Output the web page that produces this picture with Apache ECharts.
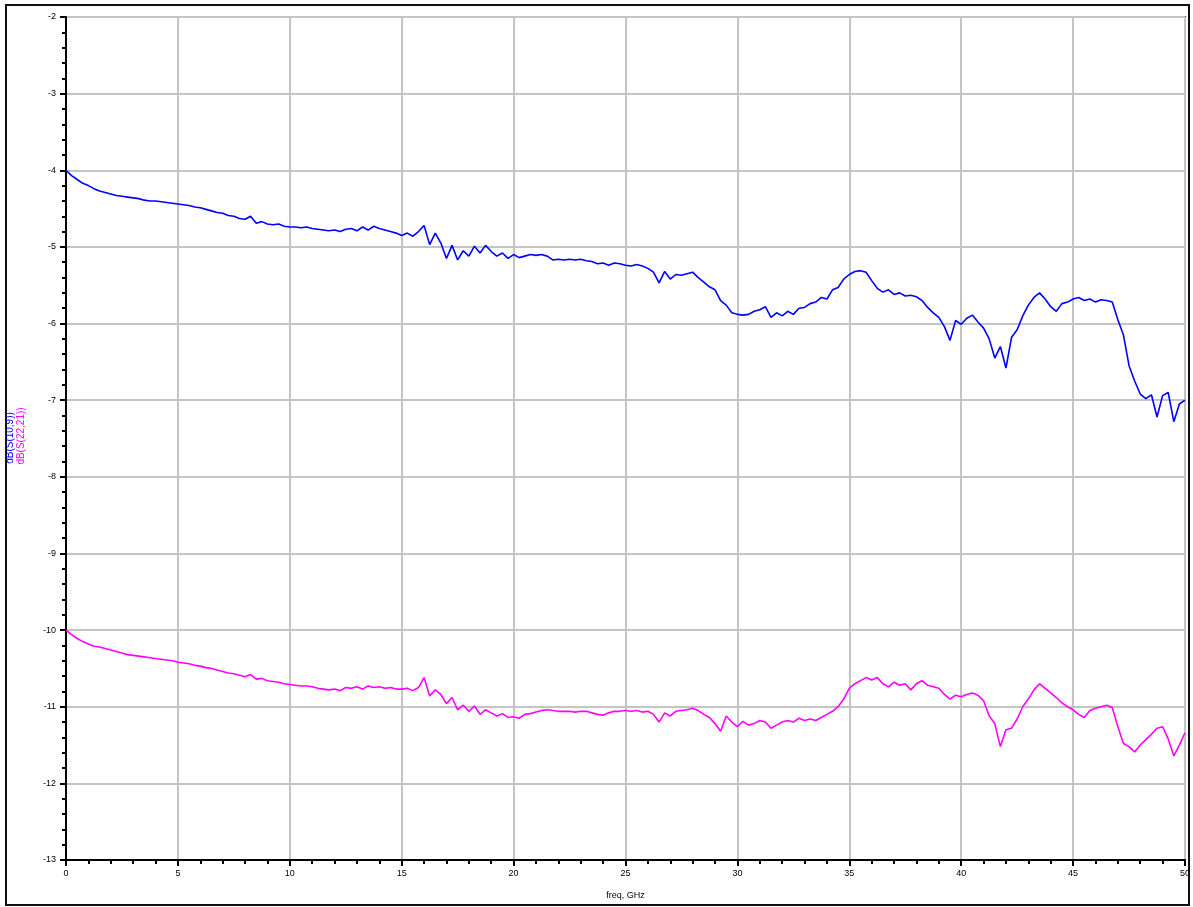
<!DOCTYPE html>
<html>
<head>
<meta charset="utf-8">
<script src="https://cdn.jsdelivr.net/npm/echarts@6/dist/echarts.min.js"></script>
<style>
  html, body { margin: 0; padding: 0; background: #fff; }
  #chart { width: 1193px; height: 907px; }
</style>
</head>
<body>
<div id="chart"></div>
<script>
// frequency grid of the traces, GHz
var freqStep = 0.25

// dB(S(10,9)), one row = 5 GHz
var s109 = [
  -4.00, -4.07, -4.12, -4.17, -4.20, -4.24, -4.27, -4.29, -4.31, -4.33, -4.34, -4.35, -4.36, -4.37, -4.39, -4.40, -4.40, -4.41, -4.42, -4.43,
  -4.44, -4.45, -4.46, -4.48, -4.49, -4.51, -4.53, -4.55, -4.56, -4.59, -4.60, -4.63, -4.64, -4.60, -4.69, -4.67, -4.70, -4.71, -4.70, -4.73,
  -4.74, -4.74, -4.75, -4.74, -4.76, -4.77, -4.78, -4.79, -4.78, -4.80, -4.77, -4.76, -4.79, -4.74, -4.78, -4.73, -4.76, -4.78, -4.80, -4.82,
  -4.85, -4.82, -4.86, -4.80, -4.72, -4.97, -4.82, -4.95, -5.15, -4.98, -5.17, -5.05, -5.12, -4.99, -5.08, -4.98, -5.06, -5.12, -5.08, -5.15,
  -5.10, -5.14, -5.12, -5.10, -5.11, -5.10, -5.12, -5.17, -5.16, -5.17, -5.16, -5.17, -5.16, -5.18, -5.19, -5.22, -5.21, -5.24, -5.21, -5.22,
  -5.24, -5.25, -5.23, -5.25, -5.28, -5.33, -5.47, -5.32, -5.42, -5.36, -5.37, -5.35, -5.33, -5.40, -5.46, -5.52, -5.56, -5.70, -5.76, -5.86,
  -5.88, -5.89, -5.88, -5.84, -5.82, -5.78, -5.92, -5.86, -5.90, -5.84, -5.88, -5.80, -5.79, -5.74, -5.72, -5.66, -5.68, -5.56, -5.53, -5.42,
  -5.36, -5.32, -5.31, -5.33, -5.44, -5.54, -5.59, -5.56, -5.62, -5.60, -5.64, -5.63, -5.65, -5.70, -5.79, -5.86, -5.92, -6.04, -6.22, -5.96,
  -6.01, -5.93, -5.89, -5.98, -6.06, -6.20, -6.45, -6.30, -6.58, -6.18, -6.08, -5.90, -5.76, -5.66, -5.60, -5.68, -5.78, -5.84, -5.74, -5.72,
  -5.68, -5.66, -5.70, -5.68, -5.72, -5.69, -5.70, -5.72, -5.95, -6.15, -6.55, -6.75, -6.92, -6.98, -6.93, -7.22, -6.94, -6.90, -7.28, -7.05,
  -7.00
]

// dB(S(22,21))
var s2221 = [
  -10.00, -10.06, -10.11, -10.15, -10.18, -10.21, -10.22, -10.24, -10.26, -10.28, -10.30, -10.32, -10.33, -10.34, -10.35, -10.36, -10.37, -10.38, -10.39, -10.40,
  -10.42, -10.43, -10.44, -10.46, -10.47, -10.49, -10.50, -10.52, -10.54, -10.56, -10.57, -10.59, -10.61, -10.58, -10.64, -10.63, -10.66, -10.67, -10.68, -10.70,
  -10.71, -10.72, -10.73, -10.73, -10.74, -10.76, -10.77, -10.78, -10.77, -10.79, -10.75, -10.76, -10.74, -10.77, -10.73, -10.75, -10.74, -10.76, -10.75, -10.77,
  -10.77, -10.76, -10.79, -10.75, -10.62, -10.86, -10.78, -10.84, -10.96, -10.88, -11.04, -10.98, -11.06, -10.99, -11.10, -11.04, -11.08, -11.12, -11.09, -11.14,
  -11.13, -11.15, -11.10, -11.09, -11.07, -11.05, -11.04, -11.05, -11.06, -11.06, -11.06, -11.07, -11.06, -11.06, -11.08, -11.10, -11.11, -11.08, -11.06, -11.06,
  -11.05, -11.06, -11.05, -11.07, -11.06, -11.10, -11.20, -11.08, -11.12, -11.06, -11.05, -11.04, -11.02, -11.05, -11.10, -11.14, -11.22, -11.32, -11.12, -11.20,
  -11.26, -11.19, -11.24, -11.22, -11.18, -11.20, -11.28, -11.24, -11.20, -11.18, -11.20, -11.15, -11.18, -11.16, -11.18, -11.14, -11.10, -11.06, -11.00, -10.90,
  -10.76, -10.70, -10.66, -10.62, -10.65, -10.62, -10.70, -10.74, -10.68, -10.72, -10.70, -10.78, -10.70, -10.66, -10.72, -10.74, -10.76, -10.84, -10.90, -10.85,
  -10.87, -10.84, -10.82, -10.85, -10.92, -11.12, -11.22, -11.52, -11.30, -11.28, -11.16, -11.00, -10.90, -10.78, -10.70, -10.76, -10.82, -10.88, -10.95, -11.00,
  -11.04, -11.10, -11.14, -11.05, -11.02, -11.00, -10.98, -11.01, -11.26, -11.48, -11.52, -11.59, -11.50, -11.43, -11.36, -11.28, -11.26, -11.42, -11.64, -11.50,
  -11.34
]

var xTicks = { min: 0, max: 50, step: 5 }
var yTicks = { min: -13, max: -2, step: 1 }

function toPairs (vals) {
  return vals.map(function (v, i) { return [i * freqStep, v] })
}

var myChart = echarts.init(document.getElementById('chart'))

var axisFont = { fontFamily: 'Liberation Sans', fontSize: 9, color: '#000' }

var option = {
  animation: false,
  backgroundColor: '#fff',
  grid: {
    left: 66,
    top: 17,
    right: 7,
    bottom: 47,
    show: true,
    borderColor: '#444',
    borderWidth: 2
  },
  xAxis: {
    type: 'value',
    min: xTicks.min,
    max: xTicks.max,
    interval: xTicks.step,
    name: 'freq, GHz',
    nameLocation: 'middle',
    nameGap: 31,
    nameTextStyle: axisFont,
    axisLine: { onZero: false, lineStyle: { color: '#000', width: 2 } },
    axisTick: { show: true, length: 6, lineStyle: { color: '#000', width: 2 } },
    minorTick: { show: true, splitNumber: 5, length: 4, lineStyle: { color: '#000', width: 2 } },
    axisLabel: Object.assign({ margin: 9 }, axisFont),
    splitLine: { show: true, lineStyle: { color: '#c4c4c4', width: 2 } }
  },
  yAxis: {
    type: 'value',
    min: yTicks.min,
    max: yTicks.max,
    interval: yTicks.step,
    axisLine: { onZero: false, lineStyle: { color: '#000', width: 2 } },
    axisTick: { show: true, length: 6, lineStyle: { color: '#000', width: 2 } },
    minorTick: { show: true, splitNumber: 5, length: 4, lineStyle: { color: '#000', width: 2 } },
    axisLabel: Object.assign({ margin: 10 }, axisFont),
    splitLine: { show: true, lineStyle: { color: '#c4c4c4', width: 2 } }
  },
  graphic: [
    {
      type: 'rect',
      shape: { x: 6, y: 5, width: 1183, height: 900 },
      style: { fill: 'none', stroke: '#111', lineWidth: 2 },
      silent: true
    },
    {
      type: 'text',
      x: 10,
      y: 438,
      rotation: Math.PI / 2,
      style: { text: 'dB(S(10,9))', fill: '#0000ff', font: '10px "Liberation Sans"', align: 'center', verticalAlign: 'middle' }
    },
    {
      type: 'text',
      x: 21,
      y: 436,
      rotation: Math.PI / 2,
      style: { text: 'dB(S(22,21))', fill: '#ff00ff', font: '10px "Liberation Sans"', align: 'center', verticalAlign: 'middle' }
    }
  ],
  series: [
    {
      name: 'dB(S(10,9))',
      type: 'line',
      showSymbol: false,
      data: toPairs(s109),
      lineStyle: { color: '#0000ff', width: 1.6 },
      itemStyle: { color: '#0000ff' }
    },
    {
      name: 'dB(S(22,21))',
      type: 'line',
      showSymbol: false,
      data: toPairs(s2221),
      lineStyle: { color: '#ff00ff', width: 1.6 },
      itemStyle: { color: '#ff00ff' }
    }
  ]
}

myChart.setOption(option)
</script>
</body>
</html>
